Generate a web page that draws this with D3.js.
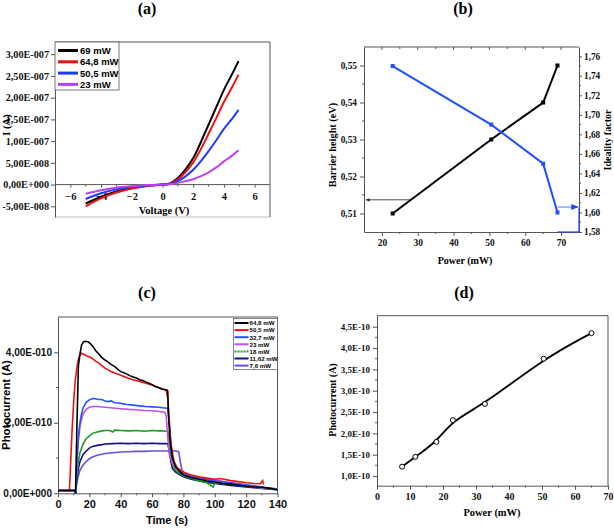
<!DOCTYPE html>
<html><head><meta charset="utf-8">
<script src="https://cdn.jsdelivr.net/npm/d3@7"></script>
<style>
body{margin:0;background:#fff;}
svg{display:block;}
</style></head>
<body>
<svg id="c" width="614" height="528"></svg>
<script>
// ---------- DATA ----------
// (a) I-V curves: voltage (V) and current (A)
const ivVoltage = [-5,-4,-3,-2,-1,0,0.5,1,1.5,2,2.5,3,3.5,4,4.5,4.95];
const ivSeriesNames = ["69 mW","64,8 mW","50,5 mW","23 mW"];
const iv69  = [-4.35e-8,-2.8e-8,-1.6e-8,-0.8e-8,-0.25e-8,0,0.3e-8,1.5e-8,3.5e-8,6.1e-8,9.8e-8,1.38e-7,1.78e-7,2.18e-7,2.52e-7,2.84e-7];
const iv648 = [-5.0e-8,-3.1e-8,-1.8e-8,-0.9e-8,-0.3e-8,0,0.25e-8,1.2e-8,2.9e-8,5.1e-8,8.2e-8,1.17e-7,1.53e-7,1.9e-7,2.22e-7,2.53e-7];
const iv505 = [-3.3e-8,-2.0e-8,-1.1e-8,-0.55e-8,-0.2e-8,0,0.15e-8,0.8e-8,1.9e-8,3.4e-8,5.4e-8,7.7e-8,1.02e-7,1.28e-7,1.5e-7,1.72e-7];
const iv23  = [-2.1e-8,-1.3e-8,-0.7e-8,-0.35e-8,-0.1e-8,0,0.08e-8,0.4e-8,0.8e-8,1.25e-8,1.95e-8,2.8e-8,3.95e-8,5.35e-8,6.6e-8,7.9e-8];
const ivTickVals = [-5e-8,0,5e-8,1e-7,1.5e-7,2e-7,2.5e-7,3e-7];
const ivTickLabels = ["-5,00E-008","0,00E+000","5,00E-008","1,00E-007","1,50E-007","2,00E-007","2,50E-007","3,00E-007"];

// (b) barrier height & ideality factor vs power
const bPower = [23,50.5,65,69];
const bBarrier = [0.51,0.53,0.54,0.55];
const bIdeality = [1.75,1.69,1.65,1.60];
const bLeftTicks = [0.51,0.52,0.53,0.54,0.55];
const bLeftLabels = ["0,51","0,52","0,53","0,54","0,55"];
const bRightTicks = [1.58,1.60,1.62,1.64,1.66,1.68,1.70,1.72,1.74,1.76];
const bRightLabels = ["1,58","1,60","1,62","1,64","1,66","1,68","1,70","1,72","1,74","1,76"];

// (c) photocurrent transients: [time s, current in 1e-10 A]
const pcNames = ["64,8 mW","50,5 mW","32,7 mW","23 mW","18 mW","11,62 mW","7,6 mW"];
const pc648 = [[0,0.08],[10.8,0.08],[11.2,0.0],[12,1.8],[13,3.6],[14,3.95],[15,4.2],[16,4.28],[17,4.31],[19,4.3],[20,4.27],[22,4.18],[24,4.05],[26,3.95],[28,3.85],[30,3.78],[32,3.72],[34,3.65],[36,3.6],[38,3.52],[40,3.45],[42,3.42],[44,3.38],[46,3.33],[48,3.3],[50,3.27],[52,3.22],[54,3.2],[56,3.16],[58,3.12],[60,3.08],[62,3.03],[64,3.0],[66,2.96],[68,2.94],[69.5,2.93],[70,2.9],[70.5,2.2],[71.5,1.5],[73,1.0],[75,0.75],[78,0.6],[80,0.52],[85,0.45],[90,0.4],[95,0.35],[100,0.32],[105,0.28],[110,0.26],[115,0.23],[120,0.2],[125,0.18],[130,0.17],[135,0.14],[140,0.1]];
const pc505 = [[0,0.08],[7.3,0.08],[8,0.8],[9,1.8],[10,2.6],[11,3.2],[12,3.55],[13,3.8],[14,3.92],[15,3.97],[16,3.95],[18,3.9],[20,3.87],[22,3.82],[24,3.75],[26,3.7],[28,3.62],[30,3.55],[32,3.5],[34,3.45],[36,3.42],[38,3.38],[40,3.35],[44,3.28],[48,3.22],[52,3.17],[56,3.12],[60,3.07],[64,3.0],[67,2.96],[69,2.93],[70,2.7],[71,2.0],[72,1.4],[74,0.9],[76,0.72],[80,0.6],[85,0.52],[90,0.47],[95,0.43],[100,0.4],[103,0.42],[106,0.4],[110,0.36],[115,0.33],[120,0.3],[125,0.28],[129,0.27],[130.5,0.36],[131,0.25]];
const pc327 = [[0,0.08],[10.8,0.08],[11.2,0.0],[12,0.9],[13,1.6],[14,2.0],[15,2.25],[16,2.42],[18,2.58],[20,2.65],[22,2.69],[24,2.68],[26,2.66],[28,2.66],[30,2.62],[32,2.6],[34,2.62],[36,2.57],[38,2.56],[40,2.55],[44,2.52],[48,2.5],[52,2.48],[56,2.46],[60,2.45],[64,2.44],[68,2.42],[70,2.41],[71,2.0],[72,1.4],[73,1.0],[75,0.75],[78,0.6],[80,0.55],[85,0.47],[90,0.42],[100,0.35],[110,0.3],[120,0.24],[130,0.18],[140,0.12]];
const pc23 = [[0,0.08],[10.8,0.08],[11.2,0.0],[12,0.8],[13,1.5],[14,1.9],[15,2.1],[16,2.25],[18,2.38],[20,2.44],[22,2.46],[25,2.46],[30,2.44],[35,2.42],[40,2.4],[45,2.38],[50,2.37],[55,2.35],[60,2.34],[65,2.32],[68,2.3],[69,2.2],[70,1.6],[71,1.1],[73,0.85],[75,0.72],[78,0.62],[80,0.57],[85,0.5],[90,0.45],[100,0.38],[110,0.3],[120,0.22],[130,0.15],[140,0.12]];
const pc18 = [[0,0.08],[10.8,0.08],[11.2,0.0],[12,0.5],[13,0.9],[14,1.15],[16,1.4],[18,1.55],[20,1.63],[22,1.7],[25,1.74],[28,1.77],[30,1.78],[33,1.78],[35,1.74],[36,1.79],[40,1.78],[45,1.77],[50,1.78],[55,1.76],[60,1.78],[65,1.77],[70,1.76],[71,1.5],[72,1.1],[73,0.8],[75,0.65],[78,0.55],[80,0.5],[85,0.43],[90,0.35],[95,0.3],[99,0.18],[100,0.3],[110,0.26],[120,0.2],[130,0.15],[140,0.1]];
const pc1162 = [[0,0.08],[10.8,0.08],[11.2,0.0],[12,0.4],[13,0.7],[14,0.9],[16,1.1],[18,1.2],[20,1.28],[22,1.33],[25,1.36],[28,1.38],[30,1.4],[35,1.41],[40,1.42],[45,1.41],[50,1.42],[55,1.41],[60,1.42],[65,1.41],[70,1.41],[71,1.2],[72,0.9],[73,0.7],[75,0.6],[78,0.52],[80,0.47],[85,0.4],[90,0.35],[100,0.28],[110,0.22],[120,0.18],[130,0.14],[140,0.1]];
const pc76 = [[0,0.08],[10.8,0.08],[11.2,0.0],[12,0.3],[13,0.5],[14,0.65],[16,0.8],[18,0.9],[20,0.98],[22,1.03],[25,1.08],[30,1.13],[35,1.15],[40,1.17],[45,1.18],[50,1.19],[55,1.19],[60,1.2],[65,1.2],[70,1.2],[75,1.2],[77,1.18],[78,0.9],[79,0.65],[81,0.57],[85,0.5],[90,0.44],[100,0.36],[110,0.28],[120,0.22],[130,0.16],[140,0.12]];
const pcTickVals = [0,2,4];
const pcTickLabels = ["0,00E+000","2,00E-010","4,00E-010"];

// (d) photocurrent vs power
const dPower = [7.6,11.62,18,23,32.7,50.5,65];
const dCurrent = [1.22e-10,1.45e-10,1.80e-10,2.31e-10,2.69e-10,3.75e-10,4.35e-10];
const dTickVals = [1e-10,1.5e-10,2e-10,2.5e-10,3e-10,3.5e-10,4e-10,4.5e-10];
const dTickLabels = ["1,0E-10","1,5E-10","2,0E-10","2,5E-10","3,0E-10","3,5E-10","4,0E-10","4,5E-10"];

// ---------- DRAW ----------
const svg = d3.select("#c");
const SERIF = "'Liberation Serif','Times New Roman',serif";
const SANS = "'Liberation Sans',Arial,sans-serif";
const FRAME = "#555";

function title(x,y,t){
  svg.append("text").attr("x",x).attr("y",y).attr("text-anchor","middle")
    .attr("font-family",SERIF).attr("font-weight","bold").attr("font-size",16).text(t);
}
function styleAxis(g,font,size){
  g.selectAll("path").attr("stroke",FRAME);
  g.selectAll("line").attr("stroke",FRAME);
  g.selectAll("text").attr("font-family",font).attr("font-weight","bold").attr("font-size",size).attr("fill","#111");
}
function minorTicks(g,scale,vals,orient,len){
  vals.forEach(v=>{
    const p=scale(v);
    if(orient==="left") g.append("line").attr("x1",0).attr("x2",-len).attr("y1",p).attr("y2",p).attr("stroke",FRAME);
    if(orient==="right") g.append("line").attr("x1",0).attr("x2",len).attr("y1",p).attr("y2",p).attr("stroke",FRAME);
    if(orient==="bottom") g.append("line").attr("y1",0).attr("y2",len).attr("x1",p).attr("x2",p).attr("stroke",FRAME);
    if(orient==="top") g.append("line").attr("y1",0).attr("y2",len).attr("x1",p).attr("x2",p).attr("stroke",FRAME);
  });
}
function rotLabel(x,y,t,font,size){
  svg.append("text").attr("transform",`translate(${x},${y}) rotate(-90)`).attr("text-anchor","middle")
    .attr("font-family",font).attr("font-weight","bold").attr("font-size",size).text(t);
}
function hLabel(x,y,t,font,size){
  svg.append("text").attr("x",x).attr("y",y).attr("text-anchor","middle")
    .attr("font-family",font).attr("font-weight","bold").attr("font-size",size).text(t);
}

// ===== (a) =====
title(147,14,"(a)");
{
  const L=55,R=270,T=42,B=217;
  const x=d3.scaleLinear().domain([-7,7]).range([L,R]);
  const y=d3.scaleLinear().domain([-7.45e-8,3.28e-7]).range([B,T]);
  svg.append("line").attr("x1",L).attr("x2",R).attr("y1",T).attr("y2",T).attr("stroke",FRAME);
  svg.append("line").attr("x1",R).attr("x2",R).attr("y1",T).attr("y2",B).attr("stroke",FRAME);
  svg.append("line").attr("x1",L).attr("x2",R).attr("y1",B).attr("y2",B).attr("stroke","#bbb");
  const ya=svg.append("g").attr("transform",`translate(${L},0)`)
    .call(d3.axisLeft(y).tickValues(ivTickVals).tickFormat((d,i)=>ivTickLabels[i]).tickSize(4).tickPadding(2).tickSizeOuter(0));
  styleAxis(ya,SERIF,10.2);
  const xa=svg.append("g").attr("transform",`translate(0,${y(0)})`)
    .call(d3.axisBottom(x).tickValues([-6,-4,-2,0,2,4,6]).tickFormat(d3.format("d")).tickSize(3).tickSizeOuter(0));
  styleAxis(xa,SERIF,10.5);
  xa.selectAll("text").attr("dy","0.85em");
  xa.select(".domain").attr("d",`M${L},0H${R}`);
  minorTicks(xa,x,[-5,-3,-1,1,3,5],"bottom",2);
  const series=[iv69,iv648,iv505,iv23];
  const cols=["#000000","#ee1111","#1a3cff","#c040f0"];
  const line=d3.line().x((d,i)=>x(ivVoltage[i])).y(d=>y(d)).curve(d3.curveCatmullRom);
  series.forEach((s,k)=>{
    svg.append("path").datum(s).attr("d",line).attr("fill","none").attr("stroke",cols[k]).attr("stroke-width",2);
  });
  svg.append("rect").attr("x",L).attr("y",T).attr("width",64).attr("height",48).attr("fill","#fff").attr("stroke",FRAME).attr("stroke-width",0.8);
  ivSeriesNames.forEach((n,k)=>{
    const yy=T+8.5+k*11.3;
    svg.append("line").attr("x1",L+3).attr("x2",L+23).attr("y1",yy).attr("y2",yy).attr("stroke",cols[k]).attr("stroke-width",3);
    svg.append("text").attr("x",L+25).attr("y",yy+3.5).attr("font-family",SANS).attr("font-weight","bold").attr("font-size",9.5).text(n);
  });
  rotLabel(10,125,"I (A)",SERIF,10.5);
  hLabel(164,214,"Voltage (V)",SERIF,10.5);
}

// ===== (b) =====
title(463,14,"(b)");
{
  const L=364,R=579,T=47,B=232;
  const x=d3.scaleLinear().domain([15,75]).range([L,R]);
  const yl=d3.scaleLinear().domain([0.505,0.555]).range([B,T]);
  const yr=d3.scaleLinear().domain([1.58,1.7695]).range([B,T]);
  svg.append("line").attr("x1",L).attr("x2",R).attr("y1",T).attr("y2",T).attr("stroke",FRAME);
  const xa=svg.append("g").attr("transform",`translate(0,${B})`)
    .call(d3.axisBottom(x).tickValues([20,30,40,50,60,70]).tickFormat(d3.format("d")).tickSize(4).tickSizeOuter(0));
  styleAxis(xa,SERIF,9.5);
  minorTicks(xa,x,[25,35,45,55,65],"bottom",2);
  const ta=svg.append("g").attr("transform",`translate(0,${T})`);
  minorTicks(ta,x,[20,30,40,50,60,70],"top",3);
  minorTicks(ta,x,[25,35,45,55,65],"top",2);
  const ya=svg.append("g").attr("transform",`translate(${L},0)`)
    .call(d3.axisLeft(yl).tickValues(bLeftTicks).tickFormat((d,i)=>bLeftLabels[i]).tickSize(4).tickPadding(3).tickSizeOuter(0));
  styleAxis(ya,SERIF,9.3);
  minorTicks(ya,yl,[0.515,0.525,0.535,0.545],"left",2);
  const yra=svg.append("g").attr("transform",`translate(${R},0)`)
    .call(d3.axisRight(yr).tickValues(bRightTicks).tickFormat((d,i)=>bRightLabels[i]).tickSize(3).tickPadding(2).tickSizeOuter(0));
  styleAxis(yra,SERIF,9.3);
  minorTicks(yra,yr,[1.59,1.61,1.63,1.65,1.67,1.69,1.71,1.73,1.75],"right",2);
  svg.append("line").attr("x1",R).attr("x2",R).attr("y1",yr(1.605)).attr("y2",B).attr("stroke","#2244ee").attr("stroke-width",1.2);
  svg.append("line").attr("x1",x(69)).attr("x2",R).attr("y1",B).attr("y2",B).attr("stroke","#2244ee").attr("stroke-width",1.2);
  const lb=d3.line().x((d,i)=>x(bPower[i])).y(d=>yl(d));
  const lr=d3.line().x((d,i)=>x(bPower[i])).y(d=>yr(d));
  svg.append("path").datum(bBarrier).attr("d",lb).attr("fill","none").attr("stroke","#000").attr("stroke-width",2);
  svg.append("path").datum(bIdeality).attr("d",lr).attr("fill","none").attr("stroke","#1f4fff").attr("stroke-width",2);
  svg.selectAll(".mb").data(bBarrier).enter().append("rect")
    .attr("x",(d,i)=>x(bPower[i])-2).attr("y",d=>yl(d)-2).attr("width",4).attr("height",4).attr("fill","#000");
  svg.selectAll(".mr").data(bIdeality).enter().append("rect")
    .attr("x",(d,i)=>x(bPower[i])-2).attr("y",d=>yr(d)-2).attr("width",4).attr("height",4).attr("fill","#1f4fff");
  const defs=svg.append("defs");
  defs.append("marker").attr("id","ah1").attr("viewBox","0 0 10 10").attr("refX",9).attr("refY",5)
    .attr("markerWidth",5).attr("markerHeight",5).attr("orient","auto")
    .append("path").attr("d","M0,1L10,5L0,9z").attr("fill","#222");
  defs.append("marker").attr("id","ah2").attr("viewBox","0 0 10 10").attr("refX",9).attr("refY",5)
    .attr("markerWidth",5).attr("markerHeight",5).attr("orient","auto")
    .append("path").attr("d","M0,1L10,5L0,9z").attr("fill","#2244ee");
  const ay=yl(0.5137);
  svg.append("line").attr("x1",x(28)).attr("x2",L+2).attr("y1",ay).attr("y2",ay).attr("stroke","#222").attr("stroke-width",0.8).attr("marker-end","url(#ah1)");
  const by=yr(1.6055);
  svg.append("line").attr("x1",x(69)).attr("x2",R-1).attr("y1",by).attr("y2",by).attr("stroke","#88aaff").attr("stroke-width",1.5).attr("marker-end","url(#ah2)");
  rotLabel(335.5,145,"Barrier height (eV)",SERIF,10.3);
  rotLabel(610.5,140,"Ideality factor",SERIF,10);
  hLabel(465,264,"Power (mW)",SERIF,10);
}

// ===== (c) =====
title(147,298,"(c)");
{
  const L=58,R=277.5,T=317,B=493.3;
  const x=d3.scaleLinear().domain([0,140]).range([L,R]);
  const y=d3.scaleLinear().domain([0,5]).range([B,T]);
  svg.append("line").attr("x1",L).attr("x2",R).attr("y1",T).attr("y2",T).attr("stroke",FRAME);
  svg.append("line").attr("x1",R).attr("x2",R).attr("y1",T).attr("y2",B).attr("stroke",FRAME);
  const xa=svg.append("g").attr("transform",`translate(0,${B})`)
    .call(d3.axisBottom(x).tickValues([0,20,40,60,80,100,120,140]).tickFormat(d3.format("d")).tickSize(4).tickSizeOuter(0));
  styleAxis(xa,SANS,11);
  minorTicks(xa,x,[10,30,50,70,90,110,130],"bottom",2);
  const ya=svg.append("g").attr("transform",`translate(${L},0)`)
    .call(d3.axisLeft(y).tickValues(pcTickVals).tickFormat((d,i)=>pcTickLabels[i]).tickSize(4).tickPadding(2).tickSizeOuter(0));
  styleAxis(ya,SANS,10);
  minorTicks(ya,y,[1,3],"left",2);
  const series=[pc648,pc505,pc327,pc23,pc18,pc1162,pc76];
  const cols=["#000000","#ee1111","#2255ff","#c050e8","#1c9a1c","#101090","#6650e6"];
  const line=d3.line().x(d=>x(d[0])).y(d=>y(d[1]));
  [6,5,4,3,2,1,0].forEach(k=>{
    svg.append("path").datum(series[k]).attr("d",line).attr("fill","none").attr("stroke",cols[k]).attr("stroke-width",1.6);
  });
  const lx=233.5, ly=318.5;
  svg.append("rect").attr("x",lx).attr("y",ly).attr("width",R-lx).attr("height",51).attr("fill","#fff").attr("stroke",FRAME).attr("stroke-width",0.7);
  pcNames.forEach((n,k)=>{
    const yy=ly+4.5+k*7.1;
    svg.append("line").attr("x1",lx+1).attr("x2",lx+15).attr("y1",yy).attr("y2",yy).attr("stroke",cols[k]).attr("stroke-width",2)
      .attr("stroke-dasharray",k===4?"2,1":null);
    svg.append("text").attr("x",lx+16).attr("y",yy+2.3).attr("font-family",SANS).attr("font-weight","bold").attr("font-size",6.2).text(n);
  });
  rotLabel(9.5,405,"Photocurrent (A)",SANS,11.3);
  hLabel(167,524,"Time (s)",SANS,11);
}

// ===== (d) =====
title(464,298,"(d)");
{
  const L=377,R=608,T=315.7,B=485.7;
  const x=d3.scaleLinear().domain([0,70]).range([L,R]);
  const y=d3.scaleLinear().domain([0.773e-10,4.758e-10]).range([B,T]);
  svg.append("line").attr("x1",L).attr("x2",R).attr("y1",T).attr("y2",T).attr("stroke",FRAME);
  svg.append("line").attr("x1",R).attr("x2",R).attr("y1",T).attr("y2",B).attr("stroke",FRAME);
  const xa=svg.append("g").attr("transform",`translate(0,${B})`)
    .call(d3.axisBottom(x).tickValues([0,10,20,30,40,50,60,70]).tickFormat(d3.format("d")).tickSize(4).tickSizeOuter(0));
  styleAxis(xa,SERIF,10);
  minorTicks(xa,x,[5,15,25,35,45,55,65],"bottom",2);
  const ya=svg.append("g").attr("transform",`translate(${L},0)`)
    .call(d3.axisLeft(y).tickValues(dTickVals).tickFormat((d,i)=>dTickLabels[i]).tickSize(4).tickSizeOuter(0));
  styleAxis(ya,SERIF,9);
  minorTicks(ya,y,[1.25e-10,1.75e-10,2.25e-10,2.75e-10,3.25e-10,3.75e-10,4.25e-10],"left",2);
  const line=d3.line().x((d,i)=>x(dPower[i])).y(d=>y(d)).curve(d3.curveBasis);
  svg.append("path").datum(dCurrent).attr("d",line).attr("fill","none").attr("stroke","#000").attr("stroke-width",1.8);
  svg.selectAll(".dp").data(dCurrent).enter().append("circle")
    .attr("cx",(d,i)=>x(dPower[i])).attr("cy",d=>y(d)).attr("r",2.5)
    .attr("fill","#fff").attr("stroke","#000").attr("stroke-width",1);
  rotLabel(336,400,"Photocurrent (A)",SERIF,10);
  hLabel(492,516,"Power (mW)",SERIF,10.5);
}
</script>
</body></html>
